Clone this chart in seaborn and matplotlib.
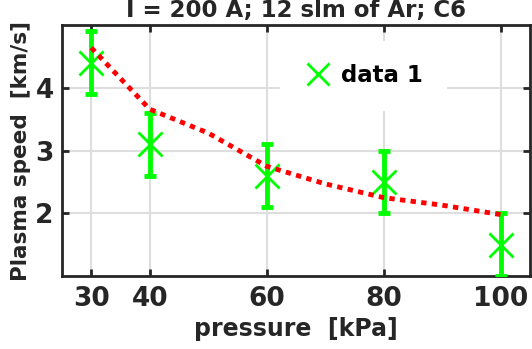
import matplotlib
matplotlib.use("Agg")
import matplotlib.pyplot as plt
import seaborn as sns
import pandas as pd
from matplotlib.lines import Line2D

pressure = [30, 40, 60, 80, 100]
speed = [4.4, 3.1, 2.6, 2.5, 1.5]
speed_err = [0.5, 0.5, 0.5, 0.5, 0.5]
fit_pressure = [30, 40, 50, 60, 70, 80, 90, 100]
fit_speed = [4.64, 3.66, 3.28, 2.75, 2.47, 2.25, 2.13, 1.98]
xticks = [30, 40, 60, 80, 100]
yticks = [2, 3, 4]

sns.set_theme(style="whitegrid")
plt.rcParams['font.family'] = ['DejaVu Sans']

fig = plt.figure(figsize=(5.32, 3.49), dpi=100)
ax = fig.add_axes([0.1165, 0.209, 0.8795, 0.719])

df = pd.DataFrame({"p": pressure, "v": speed})
fdf = pd.DataFrame({"p": fit_pressure, "v": fit_speed})

green = "#00ff00"
dark = '#262626'
ax.errorbar(pressure, speed, yerr=speed_err, fmt='none', ecolor=green,
            elinewidth=3.5, capsize=4, capthick=3.5, zorder=3)
sns.scatterplot(data=df, x="p", y="v", marker='x', s=300, color=green,
                linewidth=2.0, ax=ax, zorder=4, legend=False)
sns.lineplot(data=fdf, x="p", y="v", color="red", linewidth=3.5, ax=ax,
             zorder=5, legend=False)
ax.lines[-1].set_dashes((1.1, 1.1))

ax.set_xlim(25, 105)
ax.set_ylim(1, 5)
ax.set_xticks(xticks)
ax.set_yticks(yticks)
ax.set_xticklabels([str(t) for t in xticks], fontsize=19, fontweight='bold', color=dark)
ax.set_yticklabels([str(t) for t in yticks], fontsize=19, fontweight='bold', color=dark)
ax.set_xlabel("pressure  [kPa]", fontsize=17, fontweight='bold', color=dark, labelpad=4)
ax.set_ylabel("Plasma speed  [km/s]", fontsize=15.5, fontweight='bold', color=dark, labelpad=3)
ax.set_title("I = 200 A; 12 slm of Ar; C6", fontsize=16.5, fontweight='bold', color=dark, pad=6)

ax.grid(True, color='#dedede', linewidth=1.5)
for s in ax.spines.values():
    s.set_visible(True)
    s.set_color(dark)
    s.set_linewidth(2)
ax.tick_params(direction='in', length=5, width=2, color=dark, top=True, right=True,
               bottom=True, left=True)
ax.tick_params(axis='x', pad=7)
ax.tick_params(axis='y', pad=6)

handle = Line2D([], [], marker='x', color=green, linestyle='none', markersize=16,
                markeredgewidth=2.0)
leg = ax.legend([handle], ["data 1"], loc='center', bbox_to_anchor=(0.643, 0.8),
                frameon=True, facecolor='white', edgecolor='white', framealpha=1,
                prop={'weight': 'bold', 'size': 16.5}, borderpad=1.0, handletextpad=0.3,
                handlelength=1.4)
for t in leg.get_texts():
    t.set_color('black')

fig.savefig("out.png", dpi=100)
